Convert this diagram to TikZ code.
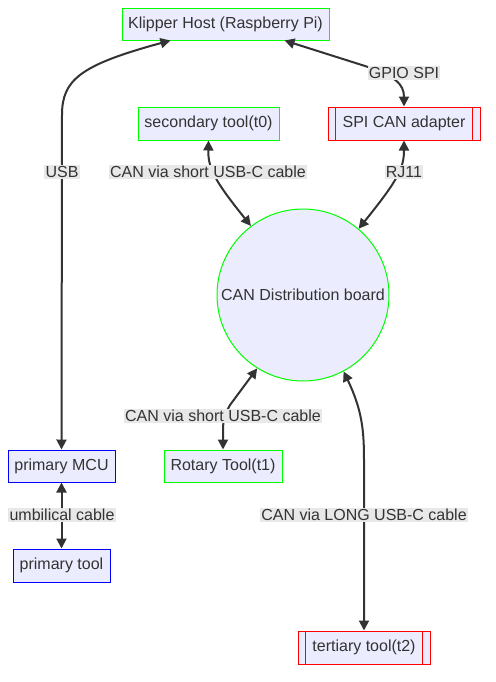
\documentclass[tikz,border=0pt]{standalone}
\usepackage{fontspec}
\setmainfont{Liberation Sans}
\usetikzlibrary{arrows.meta,calc}
\definecolor{boxfill}{HTML}{ECECFF}
\definecolor{txtgray}{HTML}{333333}
\definecolor{lblfill}{HTML}{E8E8E8}
\definecolor{limeline}{HTML}{00FF00}
\definecolor{blueline}{HTML}{0000FF}
\definecolor{redline}{HTML}{FF0000}
\def\u{0.75pt}
\tikzset{
  box/.style={draw, fill=boxfill, text=txtgray, line width=0.75pt, inner sep=0pt, font=\fontsize{12}{14}\selectfont},
  greenbox/.style={box, draw=limeline},
  bluebox/.style={box, draw=blueline},
  redbox/.style={box, draw=redline},
  edgelabel/.style={fill=lblfill, text=txtgray, inner sep=1pt, font=\fontsize{12}{14}\selectfont},
  link/.style={draw=txtgray, line width=1.5pt, {Triangle[length=7.5pt,width=7.5pt]}-{Triangle[length=7.5pt,width=7.5pt]}},
}
\begin{document}
\begin{tikzpicture}[x=0.75pt, y=-0.75pt]
			%%%%% START %%%%%
			\useasboundingbox (0,0) rectangle (496,682);
			
			\node[greenbox, minimum width=207*\u, minimum height=32*\u] (host) at (225.5, 24) {Klipper Host (Raspberry Pi)};
			\node[greenbox, minimum width=141*\u, minimum height=33*\u] (sec) at (208.5, 123.5) {secondary tool(t0)};
			\node[redbox, minimum width=152*\u, minimum height=33*\u] (spi) at (404, 123.5) {SPI CAN adapter};
			\draw[redline, line width=0.75pt] ([xshift=8*\u]spi.north west) -- ([xshift=8*\u]spi.south west);
			\draw[redline, line width=0.75pt] ([xshift=-8*\u]spi.north east) -- ([xshift=-8*\u]spi.south east);
			
			\node[greenbox, circle, minimum size=172*\u] (can) at (303, 295) {CAN Distribution board};
			
			\node[bluebox, minimum width=107*\u, minimum height=32*\u] (mcu) at (61.5, 466) {primary MCU};
			\node[greenbox, minimum width=118*\u, minimum height=32*\u] (rot) at (223, 466) {Rotary Tool(t1)};
			\node[bluebox, minimum width=97*\u, minimum height=33*\u] (ptool) at (61.5, 565.5) {primary tool};
			\node[redbox, minimum width=132*\u, minimum height=33*\u] (ter) at (364, 647.5) {tertiary tool(t2)};
			\draw[redline, line width=0.75pt] ([xshift=8*\u]ter.north west) -- ([xshift=8*\u]ter.south west);
			\draw[redline, line width=0.75pt] ([xshift=-8*\u]ter.north east) -- ([xshift=-8*\u]ter.south east);
			
			\draw[link] ($(host.south west)+(49,0)$) .. controls (80,65) and (62,80) .. (62,115) -- (mcu.north);
			\draw[link] ($(host.south west)+(163,0)$) -- (365,66) .. controls (395,76) and (404,84) .. (spi.north);
			\draw[link] (sec.south) .. controls (208,168) and (214,180) .. (can.127);
			\draw[link] (spi.south) .. controls (404,168) and (398,180) .. (can.50);
			\draw[link] (can.238) -- (230,405) .. controls (223,418) .. (rot.north);
			\draw[link] (can.298) .. controls (362,410) and (364,430) .. (364,460) -- (ter.north);
			\draw[link] (mcu.south) -- (ptool.north);
			
			\node[edgelabel] (lusb) at (62, 172) {USB};
			\node[edgelabel] (lgpio) at (404, 73) {GPIO SPI};
			\node[edgelabel] (lshort) at (208, 172) {CAN via short USB-C cable};
			\node[edgelabel] (lrj) at (404, 172) {RJ11};
			\node[edgelabel] (lrot) at (223, 416) {CAN via short USB-C cable};
			\node[edgelabel] (llong) at (364, 515) {CAN via LONG USB-C cable};
			\node[edgelabel] (lumb) at (62, 515) {umbilical cable};
			
			%%%%% END %%%%%
\end{tikzpicture}
\end{document}
